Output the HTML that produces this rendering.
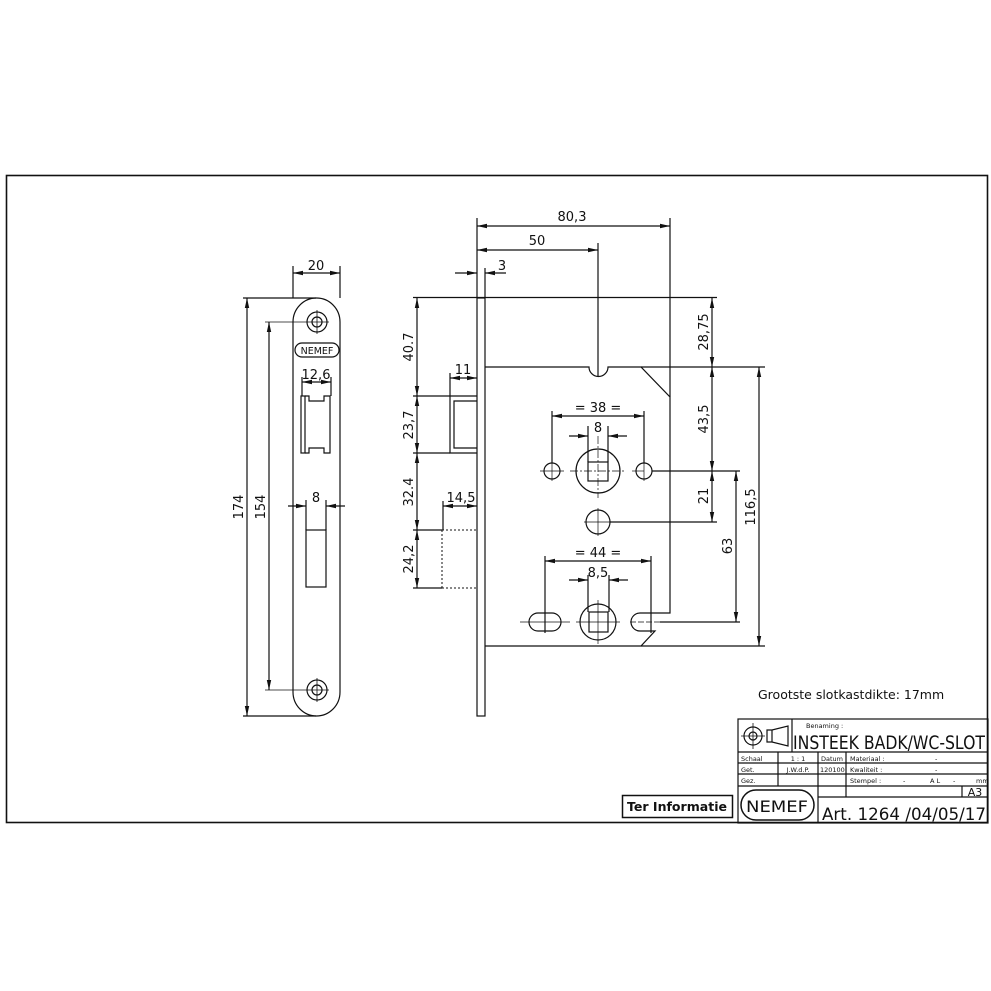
<!DOCTYPE html>
<html><head><meta charset="utf-8"><style>
html,body{margin:0;padding:0;background:#fff}
svg{display:block}
text{font-family:"DejaVu Sans","Liberation Sans",sans-serif;fill:#111}
</style></head><body>
<svg width="991" height="991" viewBox="0 0 991 991" xmlns="http://www.w3.org/2000/svg">
<defs>
<marker id="a" viewBox="0 0 10 6" refX="10" refY="3" markerWidth="10" markerHeight="6" markerUnits="userSpaceOnUse" orient="auto-start-reverse"><path d="M0,0.8 L10,3 L0,5.2z" fill="#111"/></marker>
</defs>
<g stroke="#111" stroke-width="1.2" fill="none">
<!-- frame -->
<rect x="6.5" y="175.5" width="981" height="647" stroke-width="1.6"/>

<!-- strike plate -->
<rect x="293" y="298" width="47" height="418" rx="23.5" ry="24"/>
<circle cx="317" cy="322" r="10"/><circle cx="317" cy="322" r="5"/>
<line x1="317" y1="310" x2="317" y2="334" stroke-width="0.8"/>
<line x1="265" y1="322" x2="329" y2="322" stroke-width="0.8"/>
<circle cx="317" cy="690" r="10"/><circle cx="317" cy="690" r="5"/>
<line x1="317" y1="678" x2="317" y2="702" stroke-width="0.8"/>
<line x1="265" y1="690" x2="329" y2="690" stroke-width="0.8"/>
<rect x="295" y="343" width="44" height="14" rx="7"/>
<rect x="301" y="396" width="4" height="57"/>
<path d="M305,396 H309 V401 H324 V396 H330 V453 H324 V448 H309 V453 H305"/>
<rect x="306" y="530" width="20" height="57"/>
<!-- strike dims -->
<line x1="293" y1="298" x2="293" y2="266"/><line x1="340" y1="298" x2="340" y2="266"/>
<line x1="293" y1="273" x2="340" y2="273" marker-start="url(#a)" marker-end="url(#a)"/>
<line x1="302" y1="396" x2="302" y2="377"/><line x1="331" y1="396" x2="331" y2="377"/>
<line x1="302" y1="382" x2="331" y2="382" marker-start="url(#a)" marker-end="url(#a)"/>
<line x1="306" y1="530" x2="306" y2="500"/><line x1="326" y1="530" x2="326" y2="500"/>
<line x1="288" y1="506" x2="306" y2="506" marker-end="url(#a)"/>
<line x1="345" y1="506" x2="326" y2="506" marker-end="url(#a)"/>
<line x1="243" y1="298" x2="316" y2="298"/><line x1="243" y1="716" x2="316" y2="716"/>
<line x1="247" y1="298" x2="247" y2="716" marker-start="url(#a)" marker-end="url(#a)"/>
<line x1="269" y1="322" x2="269" y2="690" marker-start="url(#a)" marker-end="url(#a)"/>

<!-- lock faceplate -->
<rect x="477" y="298" width="8" height="418"/>
<!-- body -->
<path d="M485,367 H589 A9.5,9.5 0 0 0 608,367 H641 L670,397 V613 H640 A9,9 0 0 0 640,631 H655 L641,646 H485"/>
<line x1="640" y1="613" x2="640" y2="613"/>
<!-- latch -->
<path d="M477,396 H450 V453 H477"/>
<path d="M477,401 H454 V448 H477"/>
<!-- bolt dotted -->
<path d="M442,530 H477 M442,588 H477 M442,530 V588" stroke-dasharray="2,2" stroke-width="1"/>
<!-- left dims -->
<line x1="413" y1="297.5" x2="717" y2="297.5"/>
<line x1="413" y1="396" x2="450" y2="396"/>
<line x1="413" y1="453" x2="450" y2="453"/>
<line x1="413" y1="530" x2="442" y2="530"/>
<line x1="413" y1="588" x2="442" y2="588"/>
<line x1="417" y1="298" x2="417" y2="396" marker-start="url(#a)" marker-end="url(#a)"/>
<line x1="417" y1="396" x2="417" y2="453" marker-start="url(#a)" marker-end="url(#a)"/>
<line x1="417" y1="453" x2="417" y2="530" marker-start="url(#a)" marker-end="url(#a)"/>
<line x1="417" y1="530" x2="417" y2="588" marker-start="url(#a)" marker-end="url(#a)"/>
<line x1="450" y1="373" x2="450" y2="396"/>
<line x1="450" y1="378" x2="477" y2="378" marker-start="url(#a)" marker-end="url(#a)"/>
<line x1="443" y1="501" x2="443" y2="530"/>
<line x1="443" y1="506" x2="477" y2="506" marker-start="url(#a)" marker-end="url(#a)"/>
<!-- top dims -->
<line x1="477" y1="218" x2="477" y2="298"/>
<line x1="485" y1="268" x2="485" y2="298"/>
<line x1="670" y1="218" x2="670" y2="397"/>
<line x1="598" y1="243" x2="598" y2="376"/>
<line x1="477" y1="226" x2="670" y2="226" marker-start="url(#a)" marker-end="url(#a)"/>
<line x1="477" y1="250" x2="598" y2="250" marker-start="url(#a)" marker-end="url(#a)"/>
<line x1="455" y1="273" x2="477" y2="273" marker-end="url(#a)"/>
<line x1="506" y1="273" x2="485" y2="273" marker-end="url(#a)"/>
<!-- handle holes -->
<circle cx="552" cy="471" r="8"/><circle cx="644" cy="471" r="8"/>
<circle cx="598" cy="471" r="22"/>
<rect x="588" y="462" width="20" height="19"/>
<circle cx="598" cy="522" r="12"/>
<g stroke-width="0.7">
<line x1="540" y1="471" x2="564" y2="471"/><line x1="552" y1="461" x2="552" y2="481"/>
<line x1="632" y1="471" x2="644" y2="471"/><line x1="644" y1="461" x2="644" y2="481"/>
<line x1="570" y1="471" x2="626" y2="471" stroke-dasharray="8,2,2,2"/>
<line x1="598" y1="436" x2="598" y2="498" stroke-dasharray="8,2,2,2"/>
<line x1="584" y1="522" x2="612" y2="522"/><line x1="598" y1="508" x2="598" y2="536"/>
<line x1="520" y1="622" x2="570" y2="622"/><line x1="545" y1="613" x2="545" y2="631"/>
<line x1="576" y1="622" x2="620" y2="622"/><line x1="598" y1="600" x2="598" y2="644"/>
<line x1="630" y1="622" x2="660" y2="622" stroke-dasharray="6,2"/>
</g>
<line x1="552" y1="411" x2="552" y2="463"/><line x1="644" y1="411" x2="644" y2="463"/>
<line x1="552" y1="416" x2="644" y2="416" marker-start="url(#a)" marker-end="url(#a)"/>
<line x1="588" y1="426" x2="588" y2="462"/><line x1="608" y1="426" x2="608" y2="462"/>
<line x1="569" y1="436" x2="588" y2="436" marker-end="url(#a)"/>
<line x1="627" y1="436" x2="608" y2="436" marker-end="url(#a)"/>
<line x1="652" y1="471" x2="717" y2="471"/>
<line x1="610" y1="522" x2="717" y2="522"/>
<!-- bottom holes -->
<rect x="529" y="613" width="32" height="18" rx="9"/>
<circle cx="598" cy="622" r="18"/>
<rect x="589" y="612" width="19" height="20"/>
<line x1="545" y1="556" x2="545" y2="633"/><line x1="651" y1="556" x2="651" y2="633"/>
<line x1="545" y1="561" x2="651" y2="561" marker-start="url(#a)" marker-end="url(#a)"/>
<line x1="588" y1="575" x2="588" y2="612"/><line x1="609" y1="575" x2="609" y2="612"/>
<line x1="569" y1="580" x2="588" y2="580" marker-end="url(#a)"/>
<line x1="628" y1="580" x2="609" y2="580" marker-end="url(#a)"/>
<!-- right dims -->
<line x1="670" y1="367" x2="765" y2="367"/>
<line x1="641" y1="367" x2="670" y2="367"/>
<line x1="641" y1="646" x2="765" y2="646"/>
<line x1="660" y1="622" x2="740" y2="622"/>
<line x1="712" y1="298" x2="712" y2="367" marker-start="url(#a)" marker-end="url(#a)"/>
<line x1="712" y1="367" x2="712" y2="471" marker-start="url(#a)" marker-end="url(#a)"/>
<line x1="712" y1="471" x2="712" y2="522" marker-start="url(#a)" marker-end="url(#a)"/>
<line x1="717" y1="471" x2="740" y2="471"/>
<line x1="736" y1="471" x2="736" y2="622" marker-start="url(#a)" marker-end="url(#a)"/>
<line x1="759" y1="367" x2="759" y2="646" marker-start="url(#a)" marker-end="url(#a)"/>

<!-- title block -->
<rect x="738" y="719" width="250" height="104"/>
<line x1="738" y1="752" x2="988" y2="752"/>
<line x1="738" y1="763" x2="988" y2="763"/>
<line x1="738" y1="774" x2="988" y2="774"/>
<line x1="738" y1="786" x2="988" y2="786"/>
<line x1="818" y1="797" x2="988" y2="797"/>
<line x1="792" y1="719" x2="792" y2="752"/>
<line x1="778" y1="752" x2="778" y2="786"/>
<line x1="818" y1="752" x2="818" y2="823"/>
<line x1="846" y1="752" x2="846" y2="797"/>
<line x1="962" y1="786" x2="962" y2="797"/>
<circle cx="753" cy="736" r="9"/><circle cx="753" cy="736" r="4"/>
<line x1="741" y1="736" x2="765" y2="736" stroke-width="0.8"/><line x1="753" y1="723" x2="753" y2="749" stroke-width="0.8"/>
<path d="M767,730 H772 L788,726 V746 L772,742 H767 Z"/>
<line x1="772" y1="730" x2="772" y2="742"/>
<rect x="741" y="790" width="73" height="30" rx="15" stroke-width="1.5"/>
<rect x="622.5" y="795.5" width="110" height="22" stroke-width="1.5"/>
</g>

<!-- text -->
<g font-size="13">
<text x="316" y="270" text-anchor="middle">20</text>
<text x="316" y="379" text-anchor="middle">12,6</text>
<text x="316" y="502" text-anchor="middle">8</text>
<text x="243" y="507" text-anchor="middle" transform="rotate(-90 243 507)">174</text>
<text x="265" y="507" text-anchor="middle" transform="rotate(-90 265 507)">154</text>
<text x="572" y="221" text-anchor="middle">80,3</text>
<text x="537" y="245" text-anchor="middle">50</text>
<text x="502" y="270" text-anchor="middle">3</text>
<text x="463" y="374" text-anchor="middle">11</text>
<text x="461" y="502" text-anchor="middle">14,5</text>
<text x="413" y="347" text-anchor="middle" transform="rotate(-90 413 347)">40.7</text>
<text x="413" y="425" text-anchor="middle" transform="rotate(-90 413 425)">23,7</text>
<text x="413" y="492" text-anchor="middle" transform="rotate(-90 413 492)">32.4</text>
<text x="413" y="559" text-anchor="middle" transform="rotate(-90 413 559)">24,2</text>
<text x="598" y="412" text-anchor="middle">= 38 =</text>
<text x="598" y="432" text-anchor="middle">8</text>
<text x="598" y="557" text-anchor="middle">= 44 =</text>
<text x="598" y="577" text-anchor="middle">8,5</text>
<text x="708" y="332" text-anchor="middle" transform="rotate(-90 708 332)">28,75</text>
<text x="708" y="419" text-anchor="middle" transform="rotate(-90 708 419)">43,5</text>
<text x="708" y="496" text-anchor="middle" transform="rotate(-90 708 496)">21</text>
<text x="732" y="546" text-anchor="middle" transform="rotate(-90 732 546)">63</text>
<text x="755" y="507" text-anchor="middle" transform="rotate(-90 755 507)">116,5</text>
<text x="758" y="699" font-size="12.5">Grootste slotkastdikte: 17mm</text>
</g>
<text x="317" y="354" text-anchor="middle" font-size="9.5">NEMEF</text>
<g font-size="6.5">
<text x="806" y="728">Benaming :</text>
<text x="741" y="761">Schaal</text><text x="798" y="761" text-anchor="middle">1 : 1</text><text x="821" y="761">Datum</text><text x="850" y="761">Materiaal :</text><text x="935" y="761">-</text>
<text x="741" y="772">Get.</text><text x="798" y="772" text-anchor="middle">J.W.d.P.</text><text x="820" y="772">120100</text><text x="850" y="772">Kwaliteit :</text><text x="935" y="772">-</text>
<text x="741" y="783">Gez.</text><text x="850" y="783">Stempel :</text><text x="903" y="783">-</text><text x="930" y="783">A L</text><text x="953" y="783">-</text><text x="976" y="783">mm</text>
</g>
<text x="793" y="749" font-size="19" textLength="192" lengthAdjust="spacingAndGlyphs">INSTEEK BADK/WC-SLOT</text>
<text x="975" y="796" font-size="11" text-anchor="middle">A3</text>
<text x="822" y="820" font-size="17" textLength="164" lengthAdjust="spacingAndGlyphs">Art. 1264 /04/05/17</text>
<text x="777" y="812" font-size="16" text-anchor="middle" textLength="62" lengthAdjust="spacingAndGlyphs">NEMEF</text>
<text x="677" y="811" font-size="12" font-weight="bold" text-anchor="middle" textLength="100" lengthAdjust="spacingAndGlyphs">Ter Informatie</text>
</svg>
</body></html>
